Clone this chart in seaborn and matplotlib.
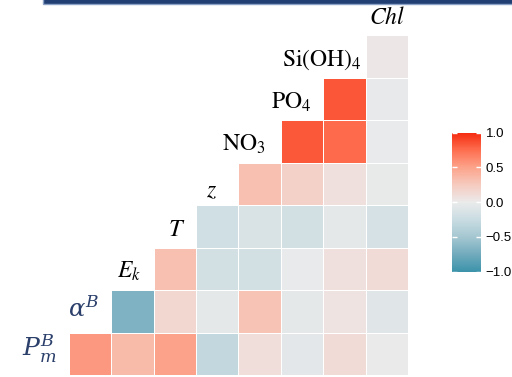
import numpy as np
import pandas as pd
import matplotlib
matplotlib.use("Agg")
import matplotlib.pyplot as plt
import seaborn as sns
from matplotlib.colors import LinearSegmentedColormap, Normalize
from matplotlib.cm import ScalarMappable
from matplotlib.patches import Rectangle

# Variables, in the order they appear along the diagonal
variables = ["Pm", "alpha", "Ek", "T", "z", "NO3", "PO4", "SiOH4", "Chl"]
var_labels = [r"$P_m^B$", r"$\alpha^B$", r"$E_k$", r"$T$", r"$z$",
              r"$\mathrm{NO}_3$", r"$\mathrm{PO}_4$", r"$\mathrm{Si(OH)}_4$", r"$Chl$"]

# Correlation of each variable with every variable after it
r_Pm = [0.55, 0.35, 0.50, -0.30, 0.10, -0.06, 0.12, 0.00]
r_alpha = [-0.68, 0.15, -0.04, 0.30, -0.04, 0.06, -0.08]
r_Ek = [0.32, -0.18, -0.18, -0.01, 0.08, 0.12]
r_T = [-0.20, -0.13, -0.18, -0.04, -0.16]
r_z = [0.32, 0.20, 0.08, -0.02]
r_NO3 = [0.83, 0.76, -0.01]
r_PO4 = [0.84, -0.03]
r_SiOH4 = [0.03]

cbar_ticks = [-1.0, -0.5, 0.0, 0.5, 1.0]
cbar_ticklabels = ["\u22121.0", "\u22120.5", "0.0", "0.5", "1.0"]

n = len(variables)
mat = np.full((n, n), np.nan)
for i, row in enumerate([r_Pm, r_alpha, r_Ek, r_T, r_z, r_NO3, r_PO4, r_SiOH4]):
    mat[i, i + 1:] = row
# Chl on top, P_m^B at the bottom
df = pd.DataFrame(mat[::-1], index=variables[::-1], columns=variables)

cmap = LinearSegmentedColormap.from_list(
    "corr",
    [(0.0, "#3c93aa"), (0.125, "#72abbd"), (0.25, "#a5c7d1"), (0.375, "#c9dce2"),
     (0.5, "#ebebeb"), (0.625, "#f6cbbf"), (0.75, "#fca38b"), (0.875, "#fe6f50"),
     (1.0, "#f52b10")])

plt.rcParams["mathtext.fontset"] = "stix"

W, H = 512, 377
fig = plt.figure(figsize=(W / 100, H / 100), dpi=100)

# heatmap grid: 9 x 9 square cells
x0, x1 = 26.6, 408.0
y0, y1 = -7.4, 375.5
ax = fig.add_axes([x0 / W, 1 - y1 / H, (x1 - x0) / W, (y1 - y0) / H])
sns.heatmap(df, cmap=cmap, vmin=-1, vmax=1, cbar=False, linewidths=0.7,
            linecolor="white", xticklabels=False, yticklabels=False, ax=ax)
ax.tick_params(left=False, bottom=False)
ax.set_xlabel("")
ax.set_ylabel("")

# diagonal labels: (column, row, ha, colour, math family, size)
navy = "#2b3f6b"
label_layout = [
    (-0.10, 8.56, "left", navy, "dejavuserif", 18),
    (0.97, 7.62, "left", navy, "dejavuserif", 17.5),
    (2.13, 6.71, "left", "black", "stix", 17),
    (3.54, 5.71, "center", "black", "stix", 17.5),
    (4.36, 4.80, "center", "black", "stix", 17),
    (5.65, 3.72, "right", "black", "stix", 17),
    (6.72, 2.72, "right", "black", "stix", 17),
    (7.91, 1.72, "right", "black", "stix", 17),
    (8.51, 0.745, "center", "black", "stix", 17),
]
for lab, (cx, ry, ha, col, mff, fs) in zip(var_labels, label_layout):
    ax.text(cx, ry, lab, ha=ha, va="baseline", color=col, fontsize=fs,
            math_fontfamily=mff, clip_on=False)

# colour bar
cax = fig.add_axes([452 / W, 1 - 271.7 / H, 29 / W, 139 / H])
cb = fig.colorbar(ScalarMappable(norm=Normalize(-1, 1), cmap=cmap), cax=cax)
cb.outline.set_visible(False)
cb.set_ticks(cbar_ticks)
cb.set_ticklabels(cbar_ticklabels)
cax.tick_params(direction="in", colors="white", length=3.5, width=1,
                left=True, right=True, labelleft=False, labelright=True,
                labelsize=9.5, pad=3.5)
for t in cax.get_yticklabels():
    t.set_color("black")
    t.set_fontfamily("Liberation Sans")

# frame edge along the top
fig.patches.append(Rectangle((43 / W, 1 - 3.5 / H), 1.0, 0.05,
                             transform=fig.transFigure, facecolor="#213f73",
                             edgecolor="#8aa0c4", linewidth=1))

fig.savefig("out.png", dpi=100)
